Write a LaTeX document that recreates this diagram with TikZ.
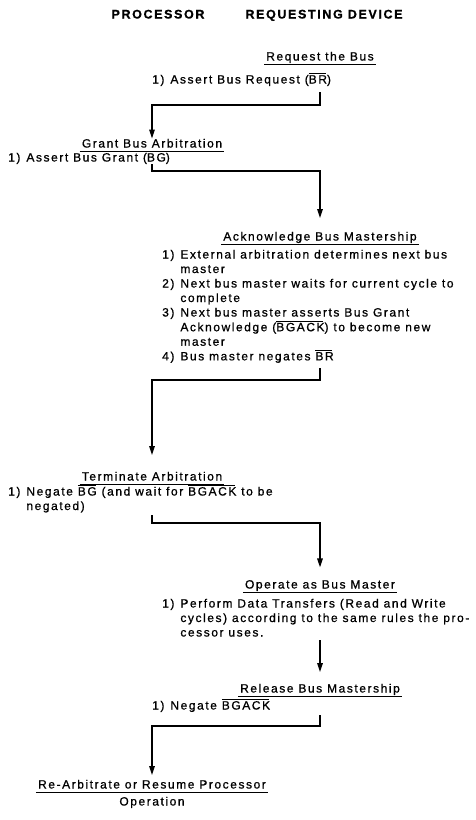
\documentclass[tikz,border=0pt]{standalone}
\usepackage{fontspec}
\setmainfont{Liberation Sans}[LetterSpace=13,FakeBold=0.8]
\usetikzlibrary{arrows.meta}
\newcommand{\ovl}[1]{\setbox0\hbox{#1}\rlap{\rule[\dimexpr\ht0+1.3pt\relax]{\dimexpr\wd0-1.2pt\relax}{0.7pt}}\box0\relax}
\newcommand{\itab}[1]{\begin{tabular}[t]{@{}l@{\hspace{6pt}}l@{}}#1\end{tabular}}
\begin{document}
\begin{tikzpicture}[x=1pt,y=-1pt,
  every node/.style={inner sep=0pt, font=\fontsize{12}{14.5}\selectfont},
  hdr/.style={anchor=base, font=\fontsize{12.5}{14}\selectfont\bfseries},
  ttl/.style={anchor=base, inner xsep=2pt, text depth=3.5pt,
    append after command={(\tikzlastnode.south west) edge[line width=0.9pt] (\tikzlastnode.south east)}},
  itm/.style={anchor=base west, align=left},
  conn/.style={line width=1.4pt, -{Triangle[length=9pt,width=5.5pt]}},
  ]
\fill[white] (0,0) rectangle (475,820);
\useasboundingbox (0,0) rectangle (475,820);

% headers
\node[hdr] (hp) at (158,18.5) {PROCESSOR};
\node[hdr] (hr) at (324,18.5) {REQUESTING DEVICE};

% Request the Bus
\node[ttl] (req) at (320,60.5) {Request the Bus};
\node[itm] (reqi) at (152,83.5) {\itab{1) & Assert Bus Request (\ovl{BR})}};

% Grant
\node[ttl] (grant) at (152,147.5) {Grant Bus Arbitration};
\node[itm] (granti) at (8,161.5) {\itab{1) & Assert Bus Grant (\ovl{BG})}};

% Acknowledge
\node[ttl] (ack) at (320,240.5) {Acknowledge Bus Mastership};
\node[itm] (acki) at (162,258.5) {\itab{%
1) & External arbitration determines next bus\\
   & master\\
2) & Next bus master waits for current cycle to\\
   & complete\\
3) & Next bus master asserts Bus Grant\\
   & Acknowledge (\ovl{BGACK}) to become new\\
   & master\\
4) & Bus master negates \ovl{BR}}};

% Terminate
\node[ttl] (term) at (152,480.5) {Terminate Arbitration};
\node[itm] (termi) at (8,495.5) {\itab{%
1) & Negate \ovl{BG} (and wait for \ovl{BGACK} to be\\
   & negated)}};

% Operate
\node[ttl] (oper) at (320,588.5) {Operate as Bus Master};
\node[itm] (operi) at (162,607.5) {\itab{%
1) & Perform Data Transfers (Read and Write\\
   & cycles) according to the same rules the pro-\\
   & cessor uses.}};

% Release
\node[ttl] (rel) at (320,692.5) {Release Bus Mastership};
\node[itm] (reli) at (152,709.5) {\itab{1) & Negate \ovl{BGACK}}};

% Re-arbitrate
\node[ttl] (rearb) at (152,788.5) {Re-Arbitrate or Resume Processor};
\node[anchor=base] (rearb2) at (152,805.5) {Operation};

% connector start points
\coordinate (s1) at (320,92);
\coordinate (s2) at (152,164);
\coordinate (s3) at (320,368);
\coordinate (s4) at (152,515);
\coordinate (s5) at (320,640);
\coordinate (s6) at (320,715);

\draw[conn] (s1) -- ++(0,13) -| (grant.north);
\draw[conn, shorten >=13.5pt] (s2) -- ++(0,7) -| (ack.north);
\draw[conn, shorten >=16.5pt] (s3) -- ++(0,12) -| (term.north);
\draw[conn, shorten >=12.5pt] (s4) -- ++(0,8) -| (oper.north);
\draw[conn, shorten >=11.5pt] (s5) -- (rel.north);
\draw[conn, shorten >=4.5pt] (s6) -- ++(0,11) -| (rearb.north);
\end{tikzpicture}
\end{document}
